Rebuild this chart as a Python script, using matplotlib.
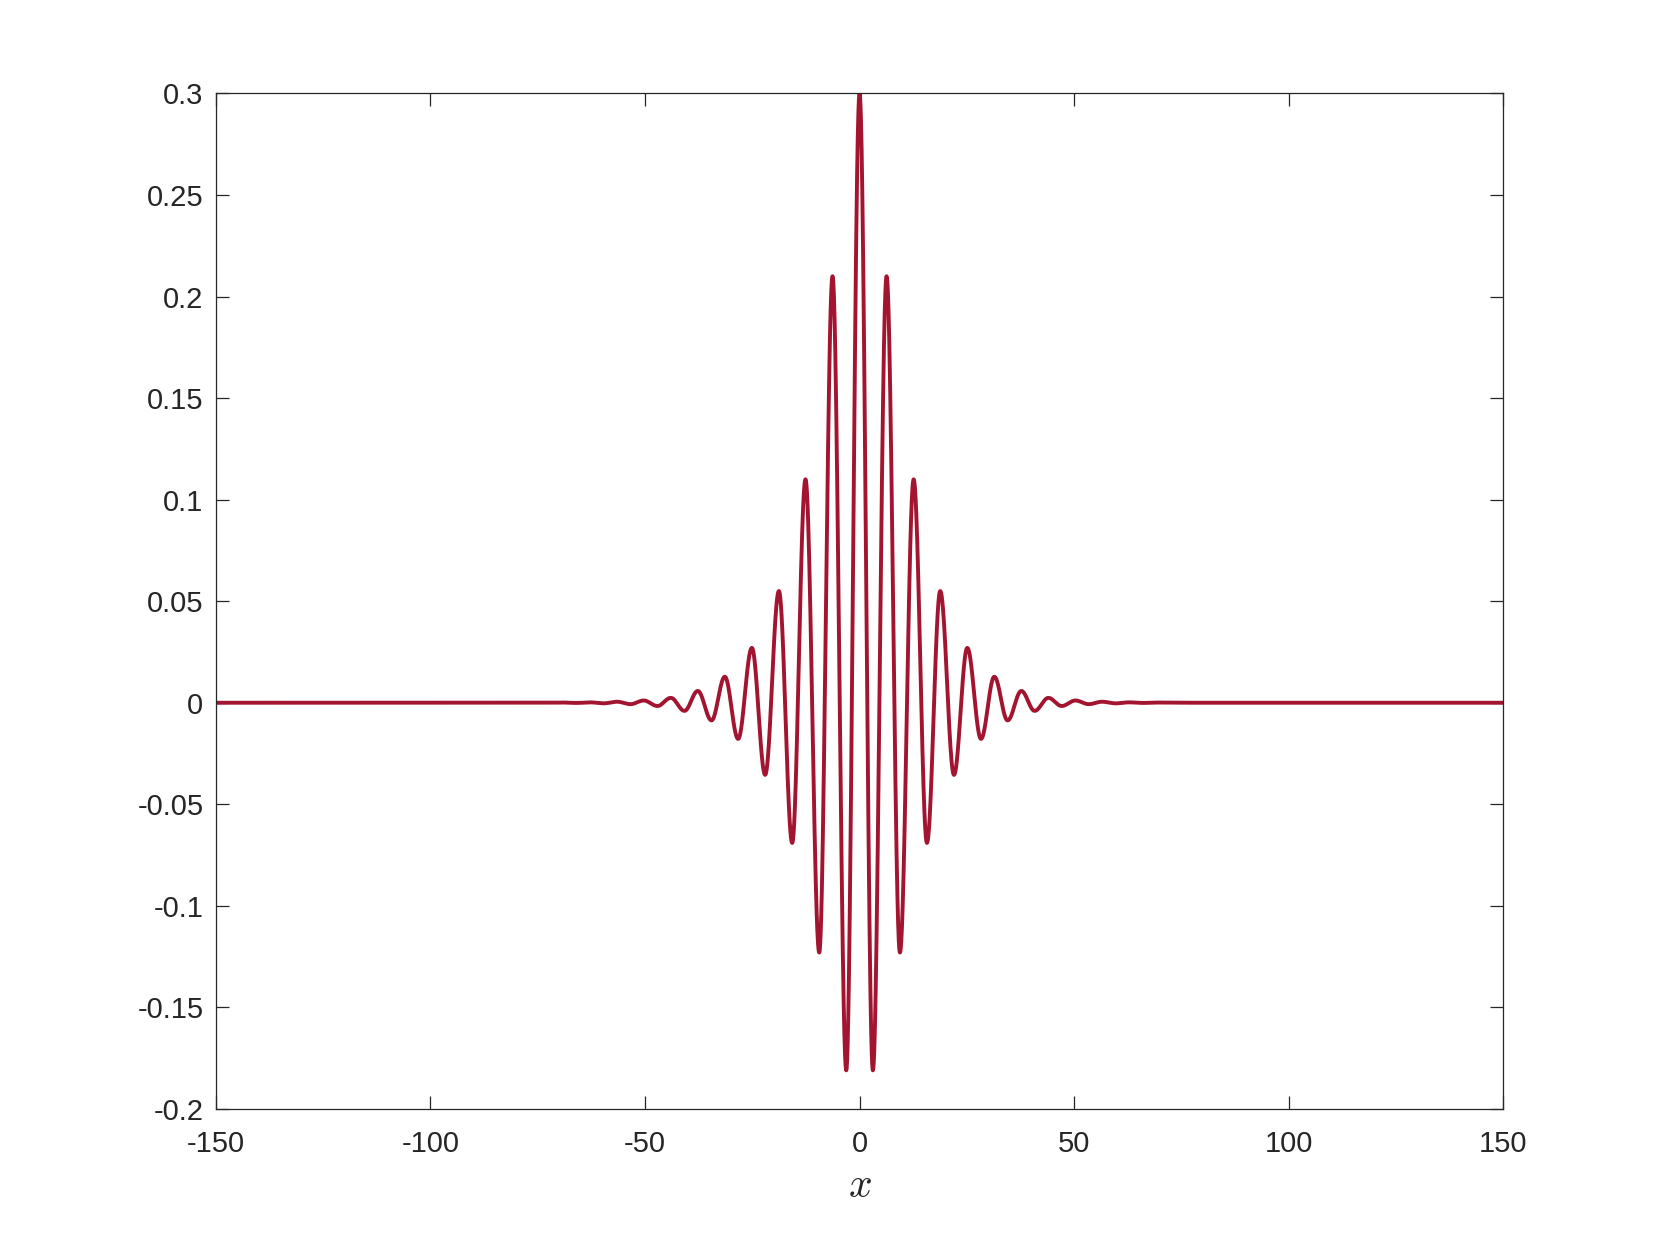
import numpy as np
import matplotlib
matplotlib.use("Agg")
import matplotlib.pyplot as plt

# Extrema of the wave packet (right half; the curve is symmetric)
peak_x = [0.0, 3.1, 6.3, 9.4, 12.6, 15.7, 18.8, 22.0, 25.1, 28.3, 31.4, 34.5,
          37.7, 40.8, 44.0, 47.1, 50.3, 53.4, 56.5, 59.7, 62.8, 66.0, 69.1, 72.3, 75.4]
peak_y = [0.300, -0.181, 0.210, -0.123, 0.110, -0.069, 0.055, -0.0355, 0.027, -0.0178,
          0.0128, -0.0087, 0.0058, -0.0040, 0.0024, -0.0016, 0.0011, -0.0007,
          0.0005, -0.0003, 0.0002, -0.0001, 0.0001, 0.0, 0.0]
x_range = [-150, 150]
y_range = [-0.2, 0.3]
x_ticks = [-150, -100, -50, 0, 50, 100, 150]
y_ticks = [-0.2, -0.15, -0.1, -0.05, 0, 0.05, 0.1, 0.15, 0.2, 0.25, 0.3]
y_tick_labels = ["-0.2", "-0.15", "-0.1", "-0.05", "0", "0.05", "0.1", "0.15", "0.2", "0.25", "0.3"]
x_tick_labels = ["-150", "-100", "-50", "0", "50", "100", "150"]

# full list of extrema (mirror) plus the flat ends
ex = [-v for v in peak_x[:0:-1]] + peak_x
ey = peak_y[:0:-1] + peak_y
ex = [x_range[0]] + ex + [x_range[1]]
ey = [0.0] + ey + [0.0]

# smooth rendering between successive extrema (half-cosine joins)
xs, ys = [], []
t = np.linspace(0, 1, 60)
for i in range(len(ex) - 1):
    xa, xb, ya, yb = ex[i], ex[i + 1], ey[i], ey[i + 1]
    xs.append(xa + (xb - xa) * t)
    ys.append(ya + (yb - ya) * (1 - np.cos(np.pi * t)) / 2)
xs = np.concatenate(xs)
ys = np.concatenate(ys)

plt.rcParams['font.family'] = ['Liberation Sans', 'DejaVu Sans']
plt.rcParams['mathtext.fontset'] = 'cm'

fig = plt.figure(figsize=(16.61, 12.46), dpi=100)
ax = fig.add_axes([0.13, 0.11, 0.775, 0.815])
ax.plot(xs, ys, color='#A2142F', lw=2.8, solid_joinstyle='round')
ax.set_xlim(x_range)
ax.set_ylim(y_range)
ax.set_xticks(x_ticks)
ax.set_xticklabels(x_tick_labels)
ax.set_yticks(y_ticks)
ax.set_yticklabels(y_tick_labels)
edge = '#262626'
for s in ax.spines.values():
    s.set_color(edge)
    s.set_linewidth(0.9)
ax.tick_params(direction='in', length=9.4, width=0.9, color=edge, labelcolor=edge,
               labelsize=21, top=True, right=True)
ax.tick_params(axis='x', pad=15)
ax.tick_params(axis='y', pad=9)
ax.set_xlabel(r'$x$', fontsize=30, color=edge, labelpad=6)
fig.savefig('out.png', dpi=100, facecolor='white')
